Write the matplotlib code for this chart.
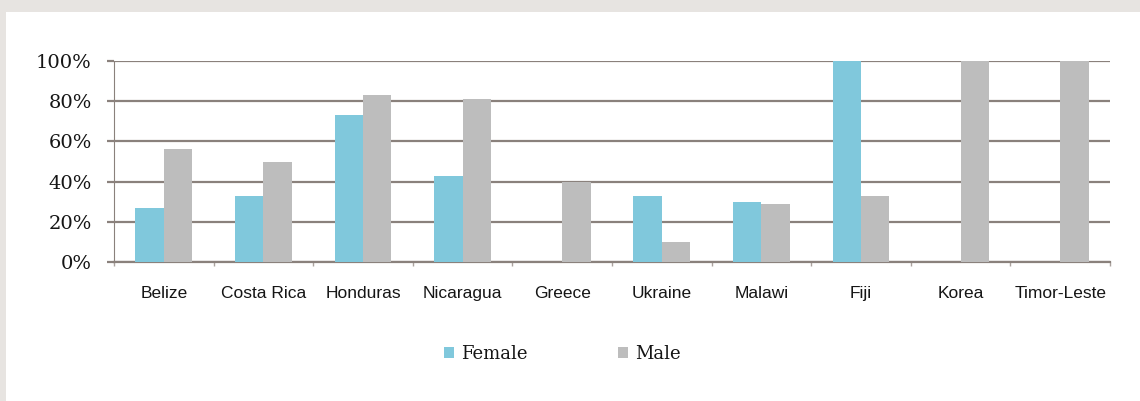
import matplotlib
matplotlib.use("Agg")
import matplotlib.pyplot as plt
from matplotlib.patches import Rectangle
from matplotlib.ticker import FuncFormatter
import numpy as np

countries = ['Belize', 'Costa Rica', 'Honduras', 'Nicaragua', 'Greece',
             'Ukraine', 'Malawi', 'Fiji', 'Korea', 'Timor-Leste']
female = [27, 33, 73, 43, 0, 33, 30, 100, 0, 0]
male = [56, 50, 83, 81, 40, 10, 29, 33, 100, 100]

blue = '#80c8dc'
grey = '#bdbdbd'
line_col = '#8a817c'
text_col = '#151515'

fig = plt.figure(figsize=(11.4, 4.01), dpi=100)
fig.patch.set_facecolor('#e7e4e1')
fig.patches.append(Rectangle((6 / 1140, 0), 1, 1 - 12 / 401, transform=fig.transFigure,
                             facecolor='white', edgecolor='none', zorder=-5))

ax = fig.add_axes([114 / 1140, 1 - 262 / 401, 996 / 1140, 201 / 401])
ax.set_facecolor('none')

x = np.arange(len(countries))
w = 0.286
ax.bar(x - w / 2, female, w, color=blue, label='Female', zorder=3)
ax.bar(x + w / 2, male, w, color=grey, label='Male', zorder=3)

ax.set_xlim(-0.5, len(countries) - 0.5)
ax.set_ylim(0, 100)
ax.set_yticks(range(0, 101, 20))
ax.yaxis.set_major_formatter(FuncFormatter(lambda v, p: f'{v:.0f}%'))
ax.grid(axis='y', color=line_col, linewidth=1.6, zorder=1)

ax.set_xticks(np.arange(-0.5, len(countries), 1))
ax.set_xticklabels([])
ax.set_xticks(x, minor=True)
ax.set_xticklabels(countries, minor=True, family='Liberation Sans', fontsize=12.5,
                   color=text_col)
ax.tick_params(axis='x', which='major', length=3, width=1, color='#aaa29e', direction='out')
ax.tick_params(axis='x', which='minor', length=0, pad=17)
ax.tick_params(axis='y', length=5, width=1.6, color=line_col, pad=11)
for lab in ax.get_yticklabels():
    lab.set_family('DejaVu Serif')
    lab.set_fontsize(14)
    lab.set_color(text_col)
    lab.set_fontweight('medium')

for s in ['top', 'right']:
    ax.spines[s].set_visible(False)
ax.spines['left'].set_color(line_col)
ax.spines['bottom'].set_color(line_col)
ax.spines['bottom'].set_linewidth(1.6)

fig.legend(loc='center', bbox_to_anchor=(562 / 1140, 1 - 354 / 401), ncol=2, frameon=False,
           prop={'family': 'DejaVu Serif', 'size': 13}, handlelength=0.6, handleheight=0.6,
           handletextpad=0.35, columnspacing=5.0, labelcolor=text_col)

fig.savefig('out.png', dpi=100, facecolor=fig.get_facecolor())
